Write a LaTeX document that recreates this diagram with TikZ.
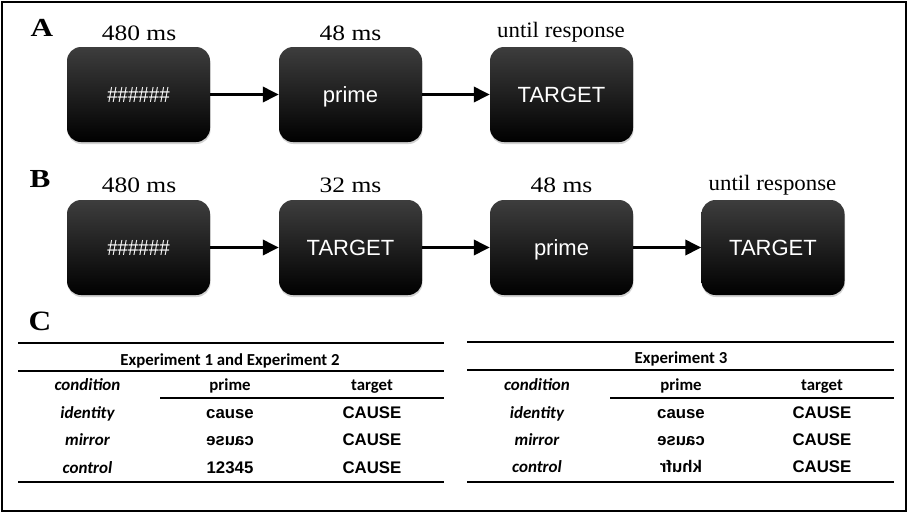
\documentclass[tikz,border=0pt]{standalone}
\usepackage{fontspec}
\usepackage{graphicx}
\setmainfont{Liberation Serif}
\newfontfamily\arsans{Liberation Sans}
\newfontfamily\carl{Carlito}
\usetikzlibrary{arrows.meta,shadows}
\tikzset{
  stim/.style={rounded corners=14pt, minimum width=143pt, minimum height=95pt,
    inner sep=0pt, text height=16pt, text depth=0pt,
    top color=black!76, middle color=black, bottom color=black,
    draw=none, text=white, font=\arsans\fontsize{22}{26}\selectfont,
    drop shadow={shadow xshift=0.5pt, shadow yshift=-2pt, opacity=0.35}},
  dur/.style={anchor=base, inner sep=0pt, font=\fontsize{22}{26}\selectfont},
  panel/.style={anchor=base, inner sep=0pt, font=\bfseries\fontsize{26}{30}\selectfont},
  flow/.style={line width=3.5pt, -{Triangle[length=16pt,width=15pt]}},
  thead/.style={anchor=base, inner sep=0pt, font=\carl\bfseries\fontsize{16.8}{20}\selectfont},
  tcond/.style={anchor=base, inner sep=0pt, font=\carl\bfseries\itshape\fontsize{17}{20}\selectfont},
  tdata/.style={anchor=base, inner sep=0pt, font=\arsans\bfseries\fontsize{16.8}{20}\selectfont},
  rule/.style={line width=2.5pt},
  subrule/.style={line width=1.8pt}
}
\newcommand{\wide}[1]{\scalebox{1.16}[1]{#1}}
\newcommand{\widel}[1]{\scalebox{1.04}[1]{#1}}
\begin{document}
\begin{tikzpicture}[x=1pt,y=-1pt]
\useasboundingbox (0,0) rectangle (910,515);
\fill[white] (0,0) rectangle (910,515);
\draw[line width=2pt] (1.5,1.5) rectangle (906,511);

% Panel A
\node[panel] (lA) at (42,36) {\scalebox{1.2}[1]{A}};
\node[stim] (a1) at (138.5,94.5) {\scalebox{0.85}[1]{\#\#\#\#\#\#}};
\node[stim] (a2) at (350.5,94.5) {prime};
\node[stim] (a3) at (561.5,94.5) {TARGET};
\node[dur] (ta1) at (139,40.5) {\wide{480 ms}};
\node[dur] (ta2) at (350.5,40.5) {\wide{48 ms}};
\node[dur] (ta3) at (561,37.5) {\widel{until response}};
\draw[flow] (a1) -- (a2);
\draw[flow] (a2) -- (a3);

% Panel B
\node[panel] (lB) at (40,187) {\scalebox{1.2}[1]{B}};
\node[stim] (b1) at (138.5,247.5) {\scalebox{0.85}[1]{\#\#\#\#\#\#}};
\node[stim] (b2) at (350.5,247.5) {TARGET};
\node[stim] (b3) at (561.5,247.5) {prime};
\node[stim] (b4) at (773,247.5) {TARGET};
\node[dur] (tb1) at (139,192) {\wide{480 ms}};
\node[dur] (tb2) at (350.5,192) {\wide{32 ms}};
\node[dur] (tb3) at (561.5,192) {\wide{48 ms}};
\node[dur] (tb4) at (772.5,190) {\widel{until response}};
\draw[flow] (b1) -- (b2);
\draw[flow] (b2) -- (b3);
\draw[flow] (b3) -- (b4);

% Panel C
\node[panel, font=\bfseries\fontsize{28}{32}\selectfont] (lC) at (40,330) {\scalebox{1.12}[1]{C}};

% Left table
\draw[rule] (18,343) -- (444,343);
\draw[rule] (18,371) -- (444,371);
\draw[subrule] (160,398) -- (444,398);
\draw[rule] (18,482) -- (444,482);
\node[thead] (h1) at (230,365) {Experiment 1 and Experiment 2};
\node[tcond] (c1) at (87.5,390.5) {condition};
\node[thead] (p1) at (230,390.5) {prime};
\node[thead] (g1) at (372,390.5) {target};
\node[tcond] (r11) at (87.5,418) {identity};
\node[tdata] (r12) at (230,418) {cause};
\node[tdata] (r13) at (372,418) {CAUSE};
\node[tcond] (r21) at (87.5,445.5) {mirror};
\node[tdata] (r22) at (230,445.5) {\reflectbox{cause}};
\node[tdata] (r23) at (372,445.5) {CAUSE};
\node[tcond] (r31) at (87.5,473) {control};
\node[tdata] (r32) at (230,473) {12345};
\node[tdata] (r33) at (372,473) {CAUSE};

% Right table
\draw[rule] (467,342) -- (894,342);
\draw[rule] (467,370) -- (894,370);
\draw[subrule] (610,398) -- (894,398);
\draw[rule] (467,482) -- (894,482);
\node[thead] (h2) at (681,363) {Experiment 3};
\node[tcond] (c2) at (537,390) {condition};
\node[thead] (p2) at (681,390) {prime};
\node[thead] (g2) at (822,390) {target};
\node[tcond] (s11) at (537,418) {identity};
\node[tdata] (s12) at (681,418) {cause};
\node[tdata] (s13) at (822,418) {CAUSE};
\node[tcond] (s21) at (537,445) {mirror};
\node[tdata] (s22) at (681,445) {\reflectbox{cause}};
\node[tdata] (s23) at (822,445) {CAUSE};
\node[tcond] (s31) at (537,472) {control};
\node[tdata] (s32) at (681,472) {\reflectbox{khufr}};
\node[tdata] (s33) at (822,472) {CAUSE};
\end{tikzpicture}
\end{document}
